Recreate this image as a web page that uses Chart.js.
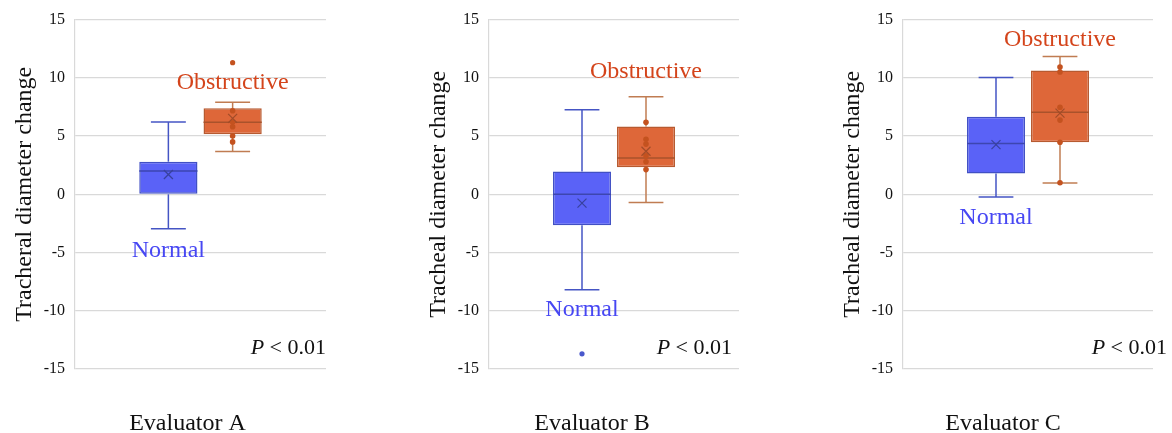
<!DOCTYPE html>
<html>
<head>
<meta charset="utf-8">
<script src="https://cdn.jsdelivr.net/npm/chart.js@4.4.1/dist/chart.umd.min.js"></script>
<style>
  html, body { margin: 0; padding: 0; background: #fff; }
  #wrap { position: relative; width: 1172px; height: 433px; overflow: hidden; }
  canvas { position: absolute; top: 0; }
</style>
</head>
<body>
<div id="wrap">
  <canvas id="chartA" width="340" height="433" style="left:0px"></canvas>
  <canvas id="chartB" width="340" height="433" style="left:414px"></canvas>
  <canvas id="chartC" width="344" height="433" style="left:828px"></canvas>
</div>
<script>
// ----------------------------
// DATA
// ----------------------------
const evaluators = ['Evaluator A', 'Evaluator B', 'Evaluator C'];
const axisTitles = ['Tracheral diameter change', 'Tracheal diameter change', 'Tracheal diameter change'];
const yTicks = [-15, -10, -5, 0, 5, 10, 15];

// [min, q1, median, q3, max]
const normalBox = [
  [-2.95, 0.0, 2.0, 2.8, 6.2],
  [-8.2, -2.65, 0.0, 1.95, 7.25],
  [-0.23, 1.78, 4.36, 6.65, 10.03]
];
const normalMean = [1.7, -0.76, 4.27];
const normalPoints = [[], [], []];
const normalOutliers = [[], [-13.7], []];

const obstrBox = [
  [3.68, 5.16, 6.18, 7.39, 7.9],
  [-0.71, 2.32, 3.12, 5.83, 8.38],
  [0.96, 4.47, 7.05, 10.62, 11.84]
];
const obstrMean = [6.52, 3.7, 6.97];
const obstrPoints = [
  [7.18, 6.2, 5.8, 5.0, 4.5],
  [6.18, 4.73, 4.31, 3.3, 2.8, 2.12],
  [10.93, 10.5, 7.48, 6.37, 4.47, 0.99]
];
const obstrOutliers = [[11.3], [], []];

// label anchors (y value) and P text
const normalLabelY = [-4.8, -9.95, -2.05];
const obstrLabelY = [9.6, 10.5, 13.3];
const pLabelY = -13.2;
const pLabelShift = [0, -7, 14];
const xLabelShift = [-13, -22, -25];

// ----------------------------
// STYLE
// ----------------------------
const serif = "'Liberation Serif', 'Times New Roman', serif";
const normalColors = {
  fill: '#5A62F7', border: '#4150C4', whisker: '#4555C4',
  median: '#3D46B0', mean: '#38429E', dot: '#4A58CC', label: '#4747F3'
};
const obstrColors = {
  fill: '#DE6739', border: '#B75A30', whisker: '#C07C52',
  median: '#A9522B', mean: '#A24C28', dot: '#C4521F', label: '#D4441B'
};

// ----------------------------
// BOX PARTS PLUGIN
// ----------------------------
const boxPlugin = {
  id: 'boxParts',
  afterDatasetsDraw(chart, args, opts) {
    const i = opts.index;
    const ctx = chart.ctx;
    const y = chart.scales.y;
    const groups = [
      { box: normalBox[i], mean: normalMean[i], pts: normalPoints[i], out: normalOutliers[i], c: normalColors },
      { box: obstrBox[i], mean: obstrMean[i], pts: obstrPoints[i], out: obstrOutliers[i], c: obstrColors }
    ];

    const line = (x1, y1, x2, y2) => {
      ctx.beginPath();
      ctx.moveTo(x1, y1);
      ctx.lineTo(x2, y2);
      ctx.stroke();
    };
    const dot = (x, v, r) => {
      ctx.beginPath();
      ctx.arc(x, y.getPixelForValue(v), r, 0, Math.PI * 2);
      ctx.fill();
    };

    groups.forEach((g, d) => {
      const bar = chart.getDatasetMeta(d).data[0];
      const cx = bar.x;
      const hw = bar.width / 2;
      const [mn, q1, med, q3, mx] = g.box;
      const cap = hw * 0.6;

      ctx.save();
      // whiskers
      ctx.strokeStyle = g.c.whisker;
      ctx.lineWidth = 1.5;
      line(cx, y.getPixelForValue(q3), cx, y.getPixelForValue(mx));
      line(cx, y.getPixelForValue(q1), cx, y.getPixelForValue(mn));
      line(cx - cap, y.getPixelForValue(mx), cx + cap, y.getPixelForValue(mx));
      line(cx - cap, y.getPixelForValue(mn), cx + cap, y.getPixelForValue(mn));

      // median
      ctx.strokeStyle = g.c.median;
      line(cx - hw, y.getPixelForValue(med), cx + hw, y.getPixelForValue(med));

      // points
      ctx.fillStyle = g.c.dot;
      g.pts.forEach(v => dot(cx, v, 2.8));
      g.out.forEach(v => dot(cx, v, 2.6));

      // mean marker
      const my = y.getPixelForValue(g.mean);
      ctx.strokeStyle = g.c.mean;
      ctx.lineWidth = 1.2;
      line(cx - 4.5, my - 4.5, cx + 4.5, my + 4.5);
      line(cx - 4.5, my + 4.5, cx + 4.5, my - 4.5);
      ctx.restore();
    });
  },
  afterDraw(chart, args, opts) {
    const i = opts.index;
    const ctx = chart.ctx;
    const y = chart.scales.y;
    const area = chart.chartArea;
    const nBar = chart.getDatasetMeta(0).data[0];
    const oBar = chart.getDatasetMeta(1).data[0];

    ctx.save();
    ctx.textBaseline = 'middle';
    ctx.textAlign = 'center';
    ctx.font = `24px ${serif}`;
    ctx.fillStyle = normalColors.label;
    ctx.fillText('Normal', nBar.x, y.getPixelForValue(normalLabelY[i]));
    ctx.fillStyle = obstrColors.label;
    ctx.fillText('Obstructive', oBar.x, y.getPixelForValue(obstrLabelY[i]));

    // P < 0.01
    const rest = ' < 0.01';
    ctx.font = `22px ${serif}`;
    const wRest = ctx.measureText(rest).width;
    const right = area.right + pLabelShift[i];
    const py = y.getPixelForValue(pLabelY);
    ctx.fillStyle = '#111';
    ctx.textAlign = 'right';
    ctx.fillText(rest, right, py);
    ctx.font = `italic 22px ${serif}`;
    ctx.fillText('P', right - wRest, py);
    ctx.restore();
  }
};

// ----------------------------
// BUILD ONE PANEL
// ----------------------------
function makePanel(id, i, padRight) {
  const ctx = document.getElementById(id).getContext('2d');
  return new Chart(ctx, {
    type: 'bar',
    data: {
      labels: [evaluators[i]],
      datasets: [
        {
          label: 'Normal',
          data: [[normalBox[i][1], normalBox[i][3]]],
          backgroundColor: normalColors.fill,
          borderColor: normalColors.border,
          borderWidth: 1.5,
          borderSkipped: false
        },
        {
          label: 'Obstructive',
          data: [[obstrBox[i][1], obstrBox[i][3]]],
          backgroundColor: obstrColors.fill,
          borderColor: obstrColors.border,
          borderWidth: 1.5,
          borderSkipped: false
        }
      ]
    },
    options: {
      responsive: false,
      animation: false,
      devicePixelRatio: 1,
      categoryPercentage: 0.512,
      barPercentage: 0.906,
      layout: { padding: { top: 15, right: padRight, bottom: 0, left: 0 } },
      plugins: {
        legend: { display: false },
        tooltip: { enabled: false },
        boxParts: { index: i }
      },
      scales: {
        x: {
          grid: { display: false },
          border: { display: false },
          ticks: {
            color: '#111',
            font: { family: serif, size: 24 },
            padding: 32,
            labelOffset: xLabelShift[i]
          },
          afterFit(scale) { scale.height = 64; }
        },
        y: {
          min: -15,
          max: 15,
          afterBuildTicks(scale) { scale.ticks = yTicks.map(v => ({ value: v })); },
          grid: { color: '#d9d9d9', lineWidth: 1.2, drawTicks: false },
          border: { display: true, color: '#d9d9d9', width: 1.2 },
          ticks: {
            color: '#111',
            font: { family: serif, size: 16 },
            padding: 10
          },
          title: {
            display: true,
            text: axisTitles[i],
            color: '#111',
            font: { family: serif, size: 24 },
            padding: { top: 10, bottom: 0 }
          },
          afterFit(scale) { scale.width = 75; }
        }
      }
    },
    plugins: [boxPlugin]
  });
}

makePanel('chartA', 0, 14);
makePanel('chartB', 1, 15);
makePanel('chartC', 2, 19);
</script>
</body>
</html>
